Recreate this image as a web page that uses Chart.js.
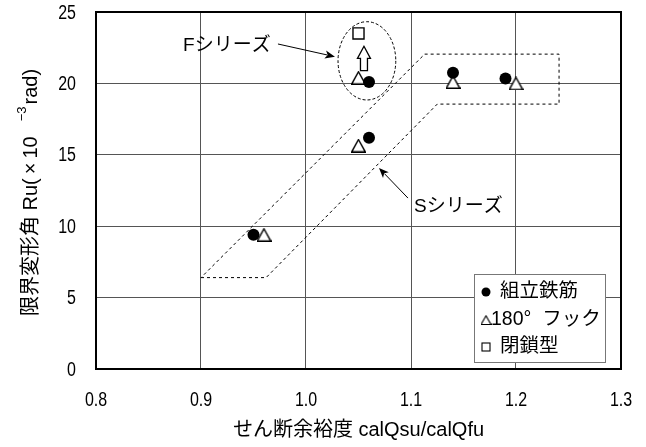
<!DOCTYPE html>
<html>
<head>
<meta charset="utf-8">
<script src="https://cdn.jsdelivr.net/npm/chart.js@4.4.0/dist/chart.umd.min.js"></script>
<style>
  html, body { margin: 0; padding: 0; background: #fff; }
  #wrap { width: 646px; height: 447px; }
</style>
</head>
<body>
<div id="wrap"><canvas id="c" width="646" height="447"></canvas></div>
<script>
// ---- data ----
const seriesNames = ['組立鉄筋', '180°  フック', '閉鎖型'];
const assembledX = [0.95, 1.06, 1.06, 1.14, 1.19];
const assembledY = [9.4, 16.2, 20.1, 20.75, 20.35];
const hookX = [0.96, 1.05, 1.05, 1.14, 1.20];
const hookY = [9.4, 15.65, 20.4, 20.1, 20.0];
const closedX = [1.05];
const closedY = [23.5];
const xTicks = [0.8, 0.9, 1.0, 1.1, 1.2, 1.3];
const yTicks = [0, 5, 10, 15, 20, 25];
const xTitle = 'せん断余裕度 calQsu/calQfu';
const yTitleParts = ['限界変形角 Ru(\u2009×\u200910', '−3', 'rad)'];

// S series outline (dashed polygon)
const sOutlineX = [0.90, 0.962, 1.125, 1.241, 1.241, 1.113, 0.90];
const sOutlineY = [6.4, 6.4, 18.55, 18.55, 22.05, 22.05, 6.4];
// F series group (dashed ellipse): centre and radii
const fEllipseCentre = [1.058, 21.58];
const fEllipseRadii = [0.0275, 2.74];
// upward block arrow inside the F group: x, then tip / head base / tail
const liftArrowX = 1.0552;
const liftArrowY = [22.6, 21.75, 20.9];
// callouts: label, label anchor, arrow tail, arrow tip
const calloutText = ['Fシリーズ', 'Sシリーズ'];
const calloutAnchor = [[0.8829, 22.62], [1.1029, 11.35]];
const calloutTail = [[0.9733, 22.76], [1.0971, 11.97]];
const calloutTip = [[1.0276, 21.87], [1.0695, 14.08]];

const toPts = (xs, ys) => xs.map((x, i) => ({ x, y: ys[i] }));

const LAT = '"Liberation Sans", "Noto Sans CJK JP", sans-serif';

// open triangle marker, centred on its bounding box
function triangleImage(w, h, lw) {
  const cv = document.createElement('canvas');
  cv.width = w; cv.height = h;
  const g = cv.getContext('2d');
  g.lineWidth = lw;
  g.strokeStyle = '#000';
  g.fillStyle = '#fff';
  g.beginPath();
  g.moveTo(w / 2, lw / 2 + 0.3);
  g.lineTo(w - lw / 2, h - lw / 2);
  g.lineTo(lw / 2, h - lw / 2);
  g.closePath();
  g.fill();
  g.stroke();
  return cv;
}
const triMarker = triangleImage(15, 14, 1.4);

function arrowLine(ctx, x1, y1, x2, y2, len, half) {
  const a = Math.atan2(y2 - y1, x2 - x1);
  const c = Math.cos(a), s = Math.sin(a);
  ctx.beginPath();
  ctx.moveTo(x1, y1);
  ctx.lineTo(x2 - c * len * 0.8, y2 - s * len * 0.8);
  ctx.stroke();
  ctx.beginPath();
  ctx.moveTo(x2, y2);
  ctx.lineTo(x2 - c * len - s * half, y2 - s * len + c * half);
  ctx.lineTo(x2 - c * len * 0.75, y2 - s * len * 0.75);
  ctx.lineTo(x2 - c * len + s * half, y2 - s * len - c * half);
  ctx.closePath();
  ctx.fill();
}

// narrow numerals for the tick labels
function narrowText(ctx, text, x, y, align) {
  ctx.save();
  ctx.translate(x, y);
  ctx.scale(0.8, 1);
  ctx.textAlign = align;
  ctx.fillText(text, 0, 0);
  ctx.restore();
}

const decor = {
  id: 'decor',
  beforeDatasetsDraw(chart) {
    const { ctx, scales: { x, y } } = chart;
    ctx.save();
    ctx.strokeStyle = '#000';
    ctx.lineWidth = 1;
    ctx.setLineDash([3, 2]);
    const cx = x.getPixelForValue(fEllipseCentre[0]);
    const cy = y.getPixelForValue(fEllipseCentre[1]);
    const rx = Math.abs(x.getPixelForValue(fEllipseCentre[0] + fEllipseRadii[0]) - cx);
    const ry = Math.abs(y.getPixelForValue(fEllipseCentre[1] + fEllipseRadii[1]) - cy);
    ctx.beginPath();
    ctx.ellipse(cx, cy, rx, ry, 0, 0, Math.PI * 2);
    ctx.stroke();
    ctx.restore();
  },
  afterDatasetsDraw(chart) {
    const { ctx, chartArea: ca, scales: { x, y } } = chart;
    ctx.save();
    // block arrow
    const ax = x.getPixelForValue(liftArrowX);
    const aTip = y.getPixelForValue(liftArrowY[0]);
    const aHead = y.getPixelForValue(liftArrowY[1]);
    const aTail = y.getPixelForValue(liftArrowY[2]);
    ctx.beginPath();
    ctx.moveTo(ax, aTip);
    ctx.lineTo(ax + 6.5, aHead);
    ctx.lineTo(ax + 3.5, aHead);
    ctx.lineTo(ax + 3.5, aTail);
    ctx.lineTo(ax - 3.5, aTail);
    ctx.lineTo(ax - 3.5, aHead);
    ctx.lineTo(ax - 6.5, aHead);
    ctx.closePath();
    ctx.fillStyle = '#fff';
    ctx.fill();
    ctx.lineWidth = 1.3;
    ctx.strokeStyle = '#000';
    ctx.stroke();

    // callouts
    ctx.fillStyle = '#000';
    ctx.font = '19px ' + LAT;
    ctx.textBaseline = 'middle';
    ctx.textAlign = 'left';
    ctx.lineWidth = 1;
    calloutText.forEach((t, i) => {
      ctx.fillText(t, x.getPixelForValue(calloutAnchor[i][0]), y.getPixelForValue(calloutAnchor[i][1]));
      arrowLine(ctx,
        x.getPixelForValue(calloutTail[i][0]), y.getPixelForValue(calloutTail[i][1]),
        x.getPixelForValue(calloutTip[i][0]), y.getPixelForValue(calloutTip[i][1]), 10, 4);
    });

    // plot frame
    ctx.lineWidth = 2;
    ctx.strokeRect(ca.left, ca.top, ca.right - ca.left, ca.bottom - ca.top);

    // legend box
    const lw = 131, lh = 88;
    const lx = ca.right - 16 - lw, ly = ca.bottom - 7 - lh;
    ctx.fillStyle = '#fff';
    ctx.fillRect(lx, ly, lw, lh);
    ctx.strokeStyle = '#777';
    ctx.lineWidth = 1;
    ctx.strokeRect(lx + 0.5, ly + 0.5, lw, lh);
    const rows = [ly + 18, ly + 46, ly + 73];
    const mx = lx + 12;
    ctx.fillStyle = '#000';
    ctx.strokeStyle = '#000';
    ctx.beginPath();
    ctx.arc(mx, rows[0], 4.5, 0, Math.PI * 2);
    ctx.fill();
    ctx.drawImage(triangleImage(11, 10, 1.1), mx - 5.5, rows[1] - 5);
    ctx.lineWidth = 1.1;
    ctx.strokeRect(mx - 4, rows[2] - 4, 8, 8);
    ctx.font = '19.5px ' + LAT;
    ctx.textBaseline = 'middle';
    ctx.fillText(seriesNames[0], lx + 26, rows[0]);
    ctx.fillText(seriesNames[1], lx + 17, rows[1]);
    ctx.fillText(seriesNames[2], lx + 26, rows[2]);
    ctx.restore();
  },
  afterDraw(chart) {
    const { ctx, chartArea: ca, scales: { x, y } } = chart;
    ctx.save();
    ctx.fillStyle = '#000';
    ctx.textBaseline = 'middle';
    // tick labels
    ctx.font = '20px ' + LAT;
    x.ticks.forEach(t => narrowText(ctx, t.value.toFixed(1), x.getPixelForValue(t.value), 400, 'center'));
    y.ticks.forEach(t => narrowText(ctx, String(t.value), 76, y.getPixelForValue(t.value) + 1, 'right'));
    // x axis title, centred on the plot area
    ctx.font = '20px ' + LAT;
    ctx.textAlign = 'center';
    ctx.fillText(xTitle, (ca.left + ca.right) / 2, 430);
    // y axis title with superscript exponent
    ctx.textAlign = 'left';
    ctx.translate(31, (ca.top + ca.bottom) / 2 + 2);
    ctx.rotate(-Math.PI / 2);
    ctx.font = '20px ' + LAT;
    const w1 = ctx.measureText(yTitleParts[0]).width;
    const w3 = ctx.measureText(yTitleParts[2]).width;
    ctx.font = '13px ' + LAT;
    const w2 = ctx.measureText(yTitleParts[1]).width;
    const gap1 = 15, gap2 = 2;
    const total = w1 + gap1 + w2 + gap2 + w3;
    let px = -total / 2;
    ctx.font = '20px ' + LAT;
    ctx.fillText(yTitleParts[0], px, 0);
    px += w1 + gap1;
    ctx.font = '13px ' + LAT;
    ctx.fillText(yTitleParts[1], px, -9);
    px += w2 + gap2;
    ctx.font = '20px ' + LAT;
    ctx.fillText(yTitleParts[2], px, 0);
    ctx.restore();
  }
};

new Chart(document.getElementById('c'), {
  type: 'scatter',
  data: {
    datasets: [
      {
        label: seriesNames[0],
        data: toPts(assembledX, assembledY),
        pointStyle: 'circle',
        pointRadius: 6,
        pointHoverRadius: 6,
        backgroundColor: '#000',
        borderColor: '#000',
        borderWidth: 0,
        order: 1
      },
      {
        label: seriesNames[1],
        data: toPts(hookX, hookY),
        pointStyle: triMarker,
        pointRadius: 7,
        backgroundColor: '#fff',
        borderColor: '#000',
        order: 2
      },
      {
        label: seriesNames[2],
        data: toPts(closedX, closedY),
        pointStyle: 'rect',
        pointRadius: 7.8,
        pointHoverRadius: 7.8,
        backgroundColor: '#fff',
        borderColor: '#000',
        borderWidth: 1.4,
        order: 3
      },
      {
        label: 'Sシリーズ',
        type: 'line',
        data: toPts(sOutlineX, sOutlineY),
        showLine: true,
        fill: false,
        tension: 0,
        borderColor: '#000',
        borderWidth: 1,
        borderDash: [3, 3],
        pointRadius: 0,
        pointHoverRadius: 0,
        order: 10
      }
    ]
  },
  options: {
    responsive: false,
    animation: false,
    events: [],
    layout: { padding: { top: 12, right: 25, bottom: 0, left: 0 } },
    plugins: { legend: { display: false }, tooltip: { enabled: false } },
    scales: {
      x: {
        type: 'linear',
        min: 0.8,
        max: 1.3,
        afterFit(s) { s.height = 78; },
        afterBuildTicks(s) { s.ticks = xTicks.map(v => ({ value: v })); },
        ticks: { display: false },
        grid: { color: '#555', lineWidth: 1, drawTicks: false },
        border: { color: '#000', width: 2 }
      },
      y: {
        type: 'linear',
        min: 0,
        max: 25,
        afterFit(s) { s.width = 96; },
        afterBuildTicks(s) { s.ticks = yTicks.map(v => ({ value: v })); },
        ticks: { display: false },
        grid: { color: '#555', lineWidth: 1, drawTicks: false },
        border: { color: '#000', width: 2 }
      }
    }
  },
  plugins: [decor]
});
</script>
</body>
</html>
